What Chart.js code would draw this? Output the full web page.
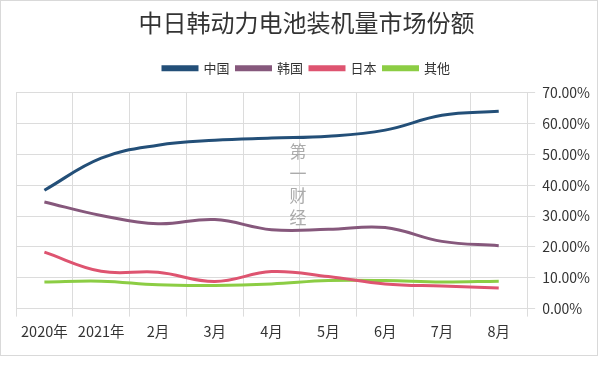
<!DOCTYPE html>
<html lang="zh-CN">
<head>
  <meta charset="UTF-8" />
  <title>中日韩动力电池装机量市场份额</title>
  <script src="https://cdn.jsdelivr.net/npm/chart.js"></script>
  <style>
    body { margin: 0; background: #fff; }
    .quadro {
      position: absolute; left: 0; top: 0;
      width: 596px; height: 354px;
      border: 1px solid #d9d9d9; background: #fff;
    }
    .marca {
      position: absolute; left: 287px; top: 139px;
      width: 20px; font: 17px "Noto Sans CJK SC", sans-serif;
      line-height: 22px; color: #ababab; text-align: center;
    }
  </style>
</head>
<body>
  <div class="quadro">
    <canvas id="grafico" width="596" height="354"></canvas>
    <div class="marca">第<br>一<br>财<br>经</div>
  </div>

  <script>
    const meses = ['2020年', '2021年', '2月', '3月', '4月', '5月', '6月', '7月', '8月'];
    const china = [38.4, 48.8, 53.0, 54.6, 55.3, 55.9, 57.9, 62.7, 64.0];
    const coreia = [34.6, 30.2, 27.5, 28.9, 25.6, 25.7, 26.3, 21.8, 20.4];
    const japao = [18.3, 12.1, 11.8, 8.8, 12.0, 10.4, 8.0, 7.3, 6.7];
    const outros = [8.6, 8.9, 7.7, 7.5, 8.0, 9.1, 9.1, 8.6, 8.9];

    const fonte = '"Noto Sans CJK SC", sans-serif';

    function serie(nome, valores, cor) {
      return {
        label: nome, data: valores,
        borderColor: cor, backgroundColor: cor,
        borderWidth: 3, pointRadius: 0, tension: 0.4, fill: false
      };
    }

    // um pouco mais de espaço entre a legenda e o gráfico
    const espacoLegenda = {
      id: 'espacoLegenda',
      beforeInit(chart) {
        const fit = chart.legend.fit;
        chart.legend.fit = function () {
          fit.call(this);
          this.height += 8;
        };
      }
    };

    new Chart(document.getElementById('grafico'), {
      type: 'line',
      data: {
        labels: meses,
        datasets: [
          serie('中国', china, '#234f78'),
          serie('韩国', coreia, '#86587c'),
          serie('日本', japao, '#de5470'),
          serie('其他', outros, '#8ccd44')
        ]
      },
      options: {
        responsive: false,
        animation: false,
        layout: { padding: { left: 15, right: 0, top: 4, bottom: 9 } },
        plugins: {
          title: {
            display: true, text: '中日韩动力电池装机量市场份额',
            color: '#333', font: { family: fonte, size: 24, weight: 'normal' },
            padding: { top: 3, bottom: 18 }
          },
          legend: {
            labels: {
              color: '#333', font: { family: fonte, size: 13 },
              boxWidth: 34, boxHeight: 3, padding: 7
            }
          },
          tooltip: { enabled: false }
        },
        scales: {
          x: {
            offset: true,
            grid: { offset: true, color: '#dcdcdc' },
            border: { color: '#dcdcdc' },
            ticks: { color: '#333', padding: 6, font: { family: fonte, size: 14.5 }, maxRotation: 0, autoSkip: false }
          },
          y: {
            position: 'right', min: 0, max: 70,
            grid: { color: '#dcdcdc' },
            border: { color: '#dcdcdc' },
            ticks: {
              stepSize: 10, color: '#333', padding: 7,
              font: { family: fonte, size: 14 },
              callback: v => v.toFixed(2) + '%'
            }
          }
        }
      },
      plugins: [espacoLegenda]
    });
  </script>
</body>
</html>
